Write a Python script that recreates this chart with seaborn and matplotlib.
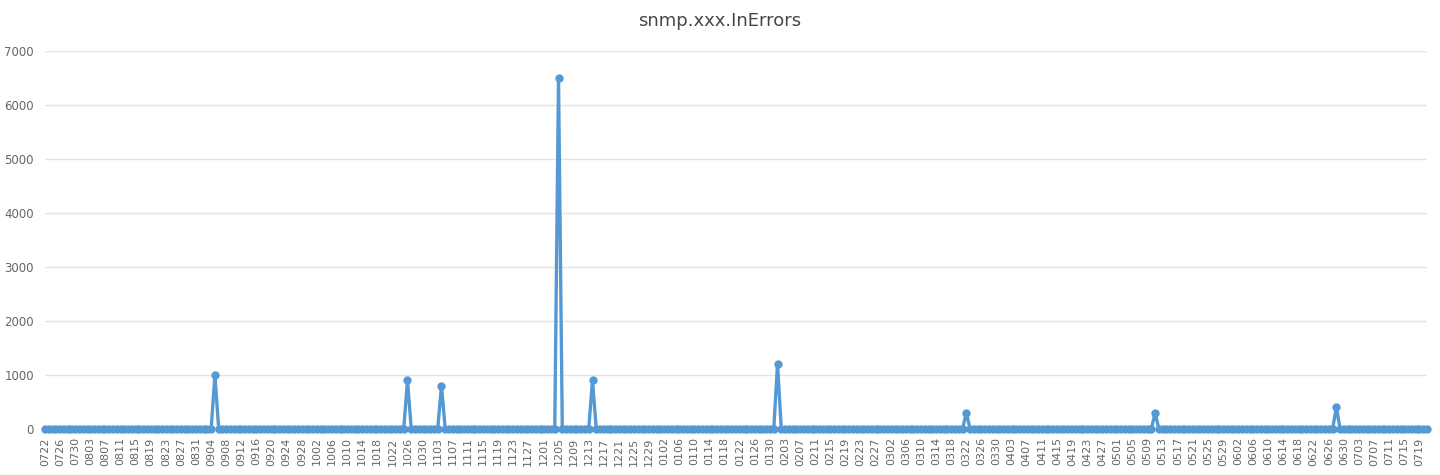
import pandas as pd
import matplotlib.pyplot as plt
import seaborn as sns

# Daily dates (2019-07-22 .. 2020-07-21); the source repeats 0701 once,
# which is why its labels go 0630 -> 0703. Values are 0 except the spikes below.
dates = pd.date_range('2019-07-22', '2020-07-21', freq='D')
repeated_dates = ['2020-07-01']
spike_dates = ['2019-09-05', '2019-10-26', '2019-11-04', '2019-12-05', '2019-12-14',
               '2020-02-01', '2020-03-22', '2020-05-11', '2020-06-28']
spike_values = [1000, 900, 800, 6500, 900, 1200, 300, 300, 400]

dates = dates.append(pd.to_datetime(repeated_dates)).sort_values()
labels = [d.strftime('%m%d') for d in dates]
values = [0] * len(dates)
for d, v in zip(spike_dates, spike_values):
    values[labels.index(pd.Timestamp(d).strftime('%m%d'))] = v

df = pd.DataFrame({'idx': range(len(labels)), 'label': labels, 'value': values})

sns.set_style('white')
plt.rcParams['font.family'] = ['DejaVu Sans']

fig = plt.figure(figsize=(14.4, 4.75), dpi=100)
ax = fig.add_axes([0.03125, 0.0968, 0.9597, 0.7958])

line_color = '#5499d4'
sns.lineplot(data=df, x='idx', y='value', ax=ax, color=line_color, linewidth=2.4,
             marker='o', markersize=6, markeredgewidth=0, clip_on=False, zorder=3)

ax.set_xlim(0, len(labels) - 1)
ax.set_ylim(0, 7000)
ax.set_yticks(range(0, 7001, 1000))
ax.set_xticks(df['idx'][::4])
ax.set_xticklabels(df['label'][::4], rotation=90, fontsize=8, color='#666666')
ax.tick_params(axis='y', labelsize=8.5, labelcolor='#666666', length=0, pad=8)
ax.tick_params(axis='x', length=0, pad=6)
ax.grid(axis='y', color='#e3e3e3', linewidth=1)
ax.set_axisbelow(True)
for s in ax.spines.values():
    s.set_visible(False)
ax.set_xlabel('')
ax.set_ylabel('')

fig.suptitle('snmp.xxx.InErrors', y=0.975, fontsize=13, color='#464646')

fig.savefig('out.png', dpi=100)
